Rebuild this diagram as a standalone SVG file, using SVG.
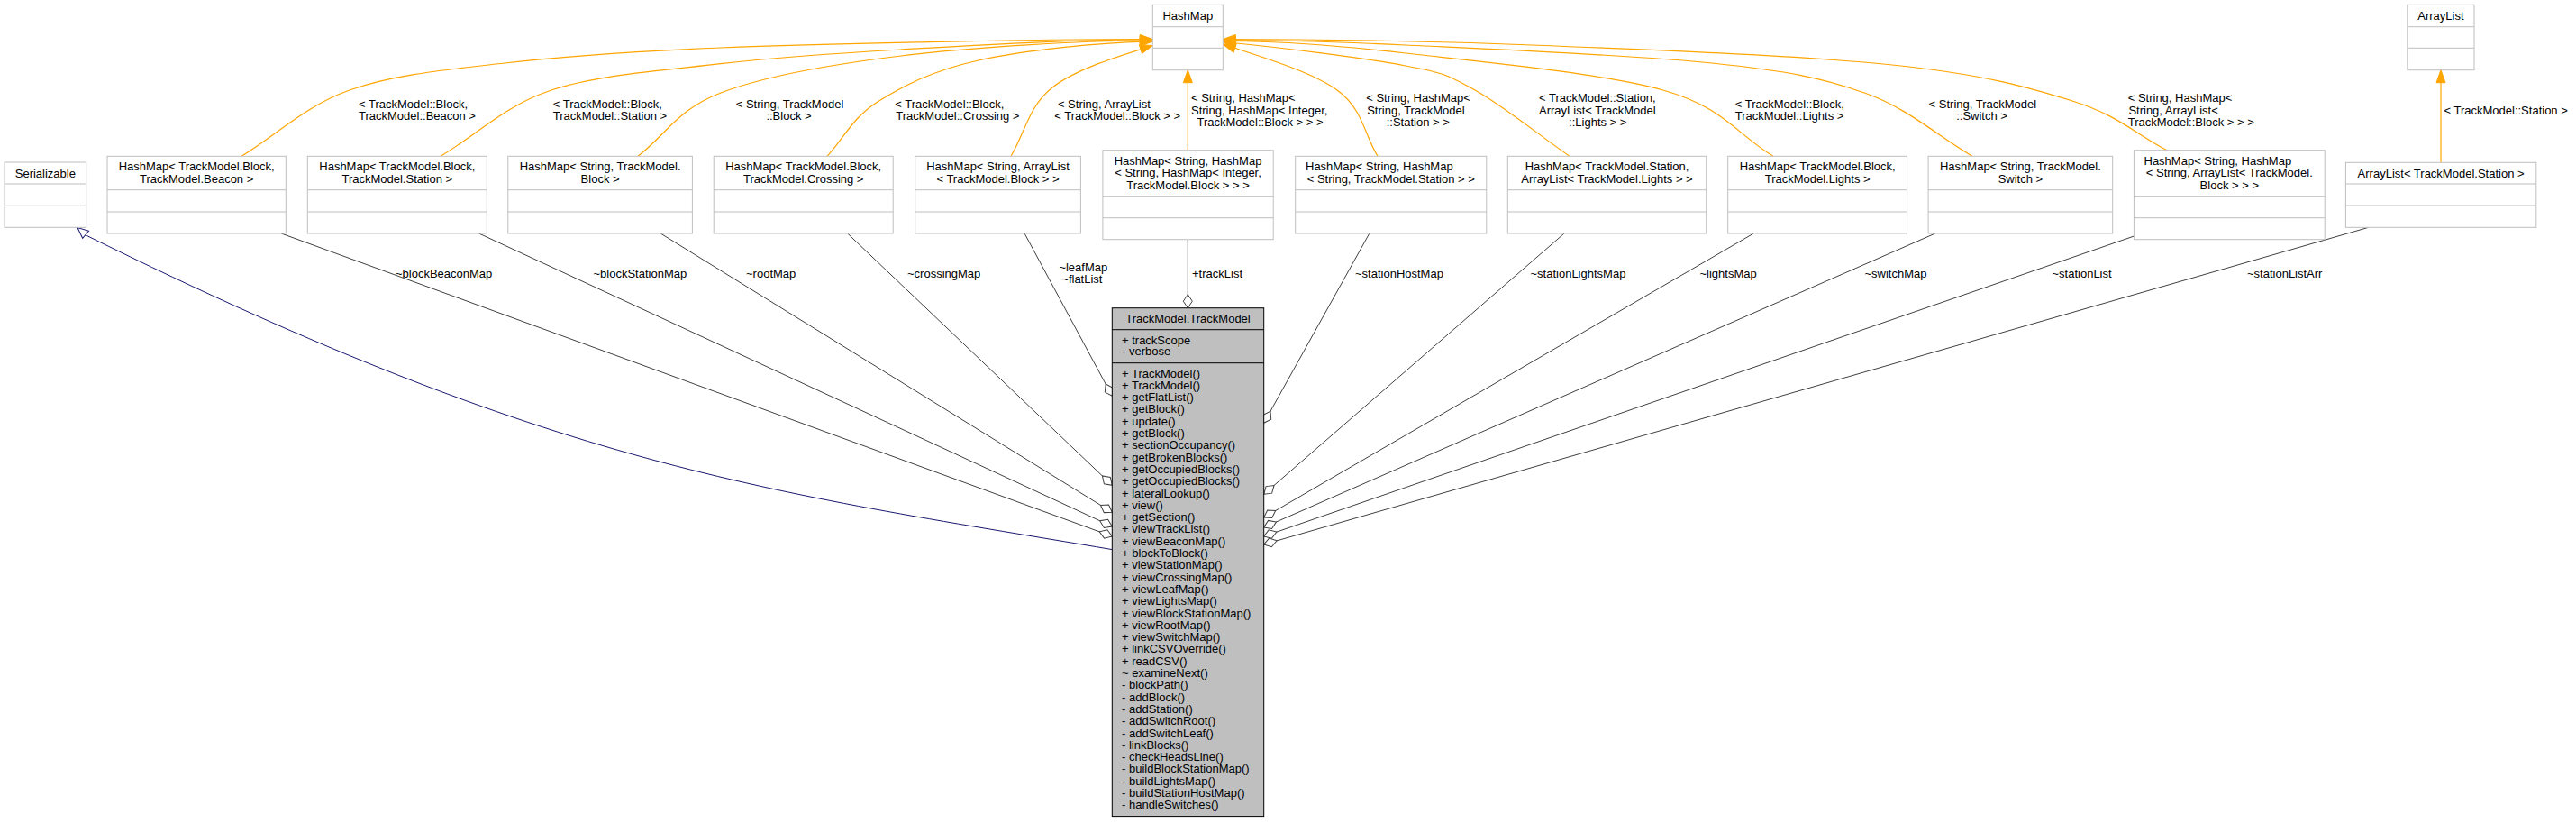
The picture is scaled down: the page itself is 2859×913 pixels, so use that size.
<svg xmlns="http://www.w3.org/2000/svg" width="2859" height="913" viewBox="0 0 2859 913">
<style>
.bg{fill:#fff}
.box{fill:#fff;stroke:#bfbfbf;stroke-width:1}
.div{stroke:#bfbfbf;stroke-width:1}
.main{fill:#bfbfbf;stroke:#000;stroke-width:1}
.mdiv{stroke:#000;stroke-width:1}
text{font-family:"Liberation Sans",Arial,Helvetica,sans-serif;font-size:13px;fill:#000}
.c{text-anchor:middle}
.e{fill:none;stroke:#404040;stroke-width:1}
.o{fill:none;stroke:#ffa500;stroke-width:1.2}
.b{fill:none;stroke:#191970;stroke-width:1}
</style>
<defs>
<marker id="dia" markerUnits="userSpaceOnUse" viewBox="-16 -7 17 14" markerWidth="17" markerHeight="14" refX="0" refY="0" orient="auto"><path d="M0,0 L-7.5,-5 L-15,0 L-7.5,5 Z" fill="#fff" stroke="#404040"/></marker>
<marker id="arr" markerUnits="userSpaceOnUse" viewBox="-15 -6 16 12" markerWidth="16" markerHeight="12" refX="0" refY="0" orient="auto"><path d="M0,0 L-14,-5 L-14,5 Z" fill="#ffa500" stroke="#ffa500"/></marker>
<marker id="tri" markerUnits="userSpaceOnUse" viewBox="-13 -7 14 14" markerWidth="14" markerHeight="14" refX="0" refY="0" orient="auto-start-reverse"><path d="M0,0 L-12,-5.3 L-12,5.3 Z" fill="#fff" stroke="#191970"/></marker>
</defs>
<rect class="bg" x="0" y="0" width="2859" height="913"/>

<g id="connectors">
<!-- inheritance -->
<path class="b" marker-start="url(#tri)" d="M86,252.5 L96.5,261.5 C620,520 850,545 1234.3,609.6"/>
<!-- template instance edges -->
<path class="o" marker-end="url(#arr)" d="M268,173.3 C308,148.9 339.3,117.2 388,100 C436.7,82.8 491.3,77.8 560,70 C628.7,62.2 693.3,57.4 800,53 C906.7,48.6 1150,43.5 1279.3,43.5"/>
<path class="o" marker-end="url(#arr)" d="M489,173.3 C530,148.9 560.2,117.1 612,100 C663.8,82.9 735.3,78.2 800,70.7 C864.7,63.2 920.2,59.5 1000,55 C1079.8,50.5 1180,44 1279.3,44"/>
<path class="o" marker-end="url(#arr)" d="M708,173.3 C738.7,149.9 751.3,121.6 800,103 C848.7,84.4 920.2,71.7 1000,62 C1079.8,52.3 1200,45 1279.3,45"/>
<path class="o" marker-end="url(#arr)" d="M918,173.3 C936.7,153.2 946,130.7 974,113 C1002,95.3 1035.2,78.2 1086,67 C1136.8,55.8 1220,47 1279.3,46"/>
<path class="o" marker-end="url(#arr)" d="M1122,173.3 C1137.3,147.9 1141.8,117.4 1168,97 C1194.2,76.6 1242,62 1279.3,50.5"/>
<path class="o" marker-end="url(#arr)" d="M1318.3,166.7 L1318.3,77.7"/>
<path class="o" marker-end="url(#arr)" d="M1529,173.3 C1514,148.9 1512.6,120.7 1484,100 C1455.4,79.3 1399.5,63 1357.3,49"/>
<path class="o" marker-end="url(#arr)" d="M1742,173.3 C1707,149 1667.3,116.7 1637,100 C1606.7,83.3 1606.7,81.8 1560,73 C1513.3,64.2 1424.7,53 1357.3,46.5"/>
<path class="o" marker-end="url(#arr)" d="M1968,173.3 C1927.2,148.9 1913.7,119 1845.7,100 C1777.7,81 1641.5,68.2 1560,59 C1478.6,49.8 1424.7,46 1357.3,45.5"/>
<path class="o" marker-end="url(#arr)" d="M2189,173.3 C2149.3,150 2118.2,120.5 2070,103.3 C2021.8,86.1 1985,78.9 1900,70 C1815,61.1 1650.5,54.3 1560,50 C1469.5,45.7 1424.7,44.5 1357.3,44.5"/>
<path class="o" marker-end="url(#arr)" d="M2405,166.7 C2370,148.5 2350.8,127.8 2300,112 C2249.2,96.2 2200,82.3 2100,72 C2000,61.7 1823.8,54.8 1700,50 C1576.2,45.2 1471.3,43.5 1357.3,43.5"/>
<path class="o" marker-end="url(#arr)" d="M2709,180.3 L2709,77.7"/>
<!-- associations -->
<path class="e" marker-end="url(#dia)" d="M312.2,259 L1234.3,595"/>
<path class="e" marker-end="url(#dia)" d="M531.6,259 L1234.3,584"/>
<path class="e" marker-end="url(#dia)" d="M733.2,259 L1234.3,568.3"/>
<path class="e" marker-end="url(#dia)" d="M940.7,259 L1234.3,538.3"/>
<path class="e" marker-end="url(#dia)" d="M1137.1,259 L1234.3,439.3"/>
<path class="e" marker-end="url(#dia)" d="M1318.3,265.7 L1318.3,341.7"/>
<path class="e" marker-end="url(#dia)" d="M1519.8,259 L1402.7,469.3"/>
<path class="e" marker-end="url(#dia)" d="M1736,259 L1402.7,548.3"/>
<path class="e" marker-end="url(#dia)" d="M1946.2,259 L1402.7,574"/>
<path class="e" marker-end="url(#dia)" d="M2147.8,259 L1402.7,585"/>
<path class="e" marker-end="url(#dia)" d="M2368.4,262 L1402.7,595"/>
<path class="e" marker-end="url(#dia)" d="M2628.7,252.3 L1402.7,604"/>
<!-- template labels -->
<text x="398" y="120">&lt; TrackModel::Block,</text>
<text x="398" y="133">TrackModel::Beacon &gt;</text>
<text x="613.8" y="120">&lt; TrackModel::Block,</text>
<text x="613.8" y="133">TrackModel::Station &gt;</text>
<text x="816.7" y="120">&lt; String, TrackModel</text>
<text x="850.4" y="133">::Block &gt;</text>
<text x="993.3" y="120">&lt; TrackModel::Block,</text>
<text x="994.3" y="133">TrackModel::Crossing &gt;</text>
<text x="1173.9" y="120">&lt; String, ArrayList</text>
<text x="1170.3" y="133">&lt; TrackModel::Block &gt; &gt;</text>
<text x="1322" y="113.3">&lt; String, HashMap&lt;</text>
<text x="1322" y="126.6">String, HashMap&lt; Integer,</text>
<text x="1328.5" y="139.9">TrackModel::Block &gt; &gt; &gt;</text>
<text x="1516.2" y="113.3">&lt; String, HashMap&lt;</text>
<text x="1517.2" y="126.6">String, TrackModel</text>
<text x="1538.7" y="139.9">::Station &gt; &gt;</text>
<text x="1708" y="113.3">&lt; TrackModel::Station,</text>
<text x="1708" y="126.6">ArrayList&lt; TrackModel</text>
<text x="1741.1" y="139.9">::Lights &gt; &gt;</text>
<text x="1925.8" y="120">&lt; TrackModel::Block,</text>
<text x="1925.8" y="133">TrackModel::Lights &gt;</text>
<text x="2140.6" y="120">&lt; String, TrackModel</text>
<text x="2171.2" y="133">::Switch &gt;</text>
<text x="2361.7" y="113.3">&lt; String, HashMap&lt;</text>
<text x="2362.4" y="126.6">String, ArrayList&lt;</text>
<text x="2361.7" y="139.9">TrackModel::Block &gt; &gt; &gt;</text>
<text x="2712.5" y="127">&lt; TrackModel::Station &gt;</text>
<!-- association labels -->
<text x="439" y="307.5">~blockBeaconMap</text>
<text x="658.5" y="307.5">~blockStationMap</text>
<text x="828" y="307.5">~rootMap</text>
<text x="1007" y="307.5">~crossingMap</text>
<text x="1175.4" y="301">~leafMap</text>
<text x="1178.3" y="314.3">~flatList</text>
<text x="1323" y="307.5">+trackList</text>
<text x="1504" y="307.5">~stationHostMap</text>
<text x="1698.5" y="307.5">~stationLightsMap</text>
<text x="1886.5" y="307.5">~lightsMap</text>
<text x="2069.5" y="307.5">~switchMap</text>
<text x="2277.5" y="307.5">~stationList</text>
<text x="2494" y="307.5">~stationListArr</text>
</g>

<g id="Serializable">
<rect class="box" x="5" y="180" width="90.7" height="72.3"/>
<line class="div" x1="5" y1="204" x2="95.7" y2="204"/>
<line class="div" x1="5" y1="228.3" x2="95.7" y2="228.3"/>
<text class="c" x="50.35" y="196.5">Serializable</text>
</g>

<g id="HashMap">
<rect class="box" x="1279.3" y="5.3" width="78" height="72.4"/>
<line class="div" x1="1279.3" y1="29.7" x2="1357.3" y2="29.7"/>
<line class="div" x1="1279.3" y1="53.3" x2="1357.3" y2="53.3"/>
<text class="c" x="1318.3" y="21.5">HashMap</text>
</g>

<g id="ArrayList">
<rect class="box" x="2671.8" y="5.3" width="74.2" height="72.4"/>
<line class="div" x1="2671.8" y1="29.7" x2="2746" y2="29.7"/>
<line class="div" x1="2671.8" y1="53.3" x2="2746" y2="53.3"/>
<text class="c" x="2708.9" y="21.5">ArrayList</text>
</g>

<g id="blockBeaconMapType">
<rect class="box" x="119" y="173.3" width="198.3" height="85.7"/>
<line class="div" x1="119" y1="210.7" x2="317.3" y2="210.7"/>
<line class="div" x1="119" y1="235" x2="317.3" y2="235"/>
<text class="c" x="218.15" y="189.3">HashMap&lt; TrackModel.Block,</text>
<text class="c" x="218.15" y="202.6">TrackModel.Beacon &gt;</text>
</g>

<g id="blockStationMapType">
<rect class="box" x="341.3" y="173.3" width="199" height="85.7"/>
<line class="div" x1="341.3" y1="210.7" x2="540.3" y2="210.7"/>
<line class="div" x1="341.3" y1="235" x2="540.3" y2="235"/>
<text class="c" x="440.8" y="189.3">HashMap&lt; TrackModel.Block,</text>
<text class="c" x="440.8" y="202.6">TrackModel.Station &gt;</text>
</g>

<g id="rootMapType">
<rect class="box" x="563.8" y="173.3" width="204.6" height="85.7"/>
<line class="div" x1="563.8" y1="210.7" x2="768.4" y2="210.7"/>
<line class="div" x1="563.8" y1="235" x2="768.4" y2="235"/>
<text class="c" x="666.1" y="189.3">HashMap&lt; String, TrackModel.</text>
<text class="c" x="666.1" y="202.6">Block &gt;</text>
</g>

<g id="crossingMapType">
<rect class="box" x="792.2" y="173.3" width="199" height="85.7"/>
<line class="div" x1="792.2" y1="210.7" x2="991.2" y2="210.7"/>
<line class="div" x1="792.2" y1="235" x2="991.2" y2="235"/>
<text class="c" x="891.7" y="189.3">HashMap&lt; TrackModel.Block,</text>
<text class="c" x="891.7" y="202.6">TrackModel.Crossing &gt;</text>
</g>

<g id="leafMapType">
<rect class="box" x="1015.7" y="173.3" width="183.7" height="85.7"/>
<line class="div" x1="1015.7" y1="210.7" x2="1199.4" y2="210.7"/>
<line class="div" x1="1015.7" y1="235" x2="1199.4" y2="235"/>
<text class="c" x="1107.55" y="189.3">HashMap&lt; String, ArrayList</text>
<text class="c" x="1107.55" y="202.6">&lt; TrackModel.Block &gt; &gt;</text>
</g>

<g id="trackListType">
<rect class="box" x="1223.9" y="166.7" width="189.3" height="99"/>
<line class="div" x1="1223.9" y1="217.7" x2="1413.2" y2="217.7"/>
<line class="div" x1="1223.9" y1="241.7" x2="1413.2" y2="241.7"/>
<text class="c" x="1318.55" y="182.9">HashMap&lt; String, HashMap</text>
<text class="c" x="1318.55" y="196.2">&lt; String, HashMap&lt; Integer,</text>
<text class="c" x="1318.55" y="209.5">TrackModel.Block &gt; &gt; &gt;</text>
</g>

<g id="stationHostMapType">
<rect class="box" x="1437.7" y="173.3" width="212.1" height="85.7"/>
<line class="div" x1="1437.7" y1="210.7" x2="1649.8" y2="210.7"/>
<line class="div" x1="1437.7" y1="235" x2="1649.8" y2="235"/>
<text x="1449" y="189.3">HashMap&lt; String, HashMap</text>
<text class="c" x="1543.75" y="202.6">&lt; String, TrackModel.Station &gt; &gt;</text>
</g>

<g id="stationLightsMapType">
<rect class="box" x="1673.3" y="173.3" width="220.4" height="85.7"/>
<line class="div" x1="1673.3" y1="210.7" x2="1893.7" y2="210.7"/>
<line class="div" x1="1673.3" y1="235" x2="1893.7" y2="235"/>
<text class="c" x="1783.5" y="189.3">HashMap&lt; TrackModel.Station,</text>
<text class="c" x="1783.5" y="202.6">ArrayList&lt; TrackModel.Lights &gt; &gt;</text>
</g>

<g id="lightsMapType">
<rect class="box" x="1917.7" y="173.3" width="198.9" height="85.7"/>
<line class="div" x1="1917.7" y1="210.7" x2="2116.6" y2="210.7"/>
<line class="div" x1="1917.7" y1="235" x2="2116.6" y2="235"/>
<text class="c" x="2017.15" y="189.3">HashMap&lt; TrackModel.Block,</text>
<text class="c" x="2017.15" y="202.6">TrackModel.Lights &gt;</text>
</g>

<g id="switchMapType">
<rect class="box" x="2140.1" y="173.3" width="204.6" height="85.7"/>
<line class="div" x1="2140.1" y1="210.7" x2="2344.7" y2="210.7"/>
<line class="div" x1="2140.1" y1="235" x2="2344.7" y2="235"/>
<text class="c" x="2242.4" y="189.3">HashMap&lt; String, TrackModel.</text>
<text class="c" x="2242.4" y="202.6">Switch &gt;</text>
</g>

<g id="stationListType">
<rect class="box" x="2368.4" y="166.7" width="211.8" height="99"/>
<line class="div" x1="2368.4" y1="217.7" x2="2580.2" y2="217.7"/>
<line class="div" x1="2368.4" y1="241.7" x2="2580.2" y2="241.7"/>
<text x="2379.5" y="182.9">HashMap&lt; String, HashMap</text>
<text class="c" x="2474.3" y="196.2">&lt; String, ArrayList&lt; TrackModel.</text>
<text class="c" x="2474.3" y="209.5">Block &gt; &gt; &gt;</text>
</g>

<g id="stationListArrType">
<rect class="box" x="2603.4" y="180.3" width="211.4" height="72"/>
<line class="div" x1="2603.4" y1="204" x2="2814.8" y2="204"/>
<line class="div" x1="2603.4" y1="228" x2="2814.8" y2="228"/>
<text class="c" x="2709.1" y="196.5">ArrayList&lt; TrackModel.Station &gt;</text>
</g>

<g id="TrackModel">
<rect class="main" x="1234.3" y="341.7" width="168.4" height="563.9"/>
<line class="mdiv" x1="1234.3" y1="365.7" x2="1402.7" y2="365.7"/>
<line class="mdiv" x1="1234.3" y1="402.7" x2="1402.7" y2="402.7"/>
<text class="c" x="1318.5" y="357.7">TrackModel.TrackModel</text>
<text x="1245" y="381.7">+ trackScope</text>
<text x="1245" y="394">- verbose</text>
<text x="1245" y="418.5">+ TrackModel()</text>
<text x="1245" y="431.8">+ TrackModel()</text>
<text x="1245" y="445.1">+ getFlatList()</text>
<text x="1245" y="458.4">+ getBlock()</text>
<text x="1245" y="471.7">+ update()</text>
<text x="1245" y="485">+ getBlock()</text>
<text x="1245" y="498.3">+ sectionOccupancy()</text>
<text x="1245" y="511.6">+ getBrokenBlocks()</text>
<text x="1245" y="524.9">+ getOccupiedBlocks()</text>
<text x="1245" y="538.2">+ getOccupiedBlocks()</text>
<text x="1245" y="551.5">+ lateralLookup()</text>
<text x="1245" y="564.8">+ view()</text>
<text x="1245" y="578.1">+ getSection()</text>
<text x="1245" y="591.4">+ viewTrackList()</text>
<text x="1245" y="604.7">+ viewBeaconMap()</text>
<text x="1245" y="618">+ blockToBlock()</text>
<text x="1245" y="631.3">+ viewStationMap()</text>
<text x="1245" y="644.6">+ viewCrossingMap()</text>
<text x="1245" y="657.9">+ viewLeafMap()</text>
<text x="1245" y="671.2">+ viewLightsMap()</text>
<text x="1245" y="684.5">+ viewBlockStationMap()</text>
<text x="1245" y="697.8">+ viewRootMap()</text>
<text x="1245" y="711.1">+ viewSwitchMap()</text>
<text x="1245" y="724.4">+ linkCSVOverride()</text>
<text x="1245" y="737.7">+ readCSV()</text>
<text x="1245" y="751">~ examineNext()</text>
<text x="1245" y="764.3">- blockPath()</text>
<text x="1245" y="777.6">- addBlock()</text>
<text x="1245" y="790.9">- addStation()</text>
<text x="1245" y="804.2">- addSwitchRoot()</text>
<text x="1245" y="817.5">- addSwitchLeaf()</text>
<text x="1245" y="830.8">- linkBlocks()</text>
<text x="1245" y="844.1">- checkHeadsLine()</text>
<text x="1245" y="857.4">- buildBlockStationMap()</text>
<text x="1245" y="870.7">- buildLightsMap()</text>
<text x="1245" y="884">- buildStationHostMap()</text>
<text x="1245" y="897.3">- handleSwitches()</text>
</g>
</svg>
